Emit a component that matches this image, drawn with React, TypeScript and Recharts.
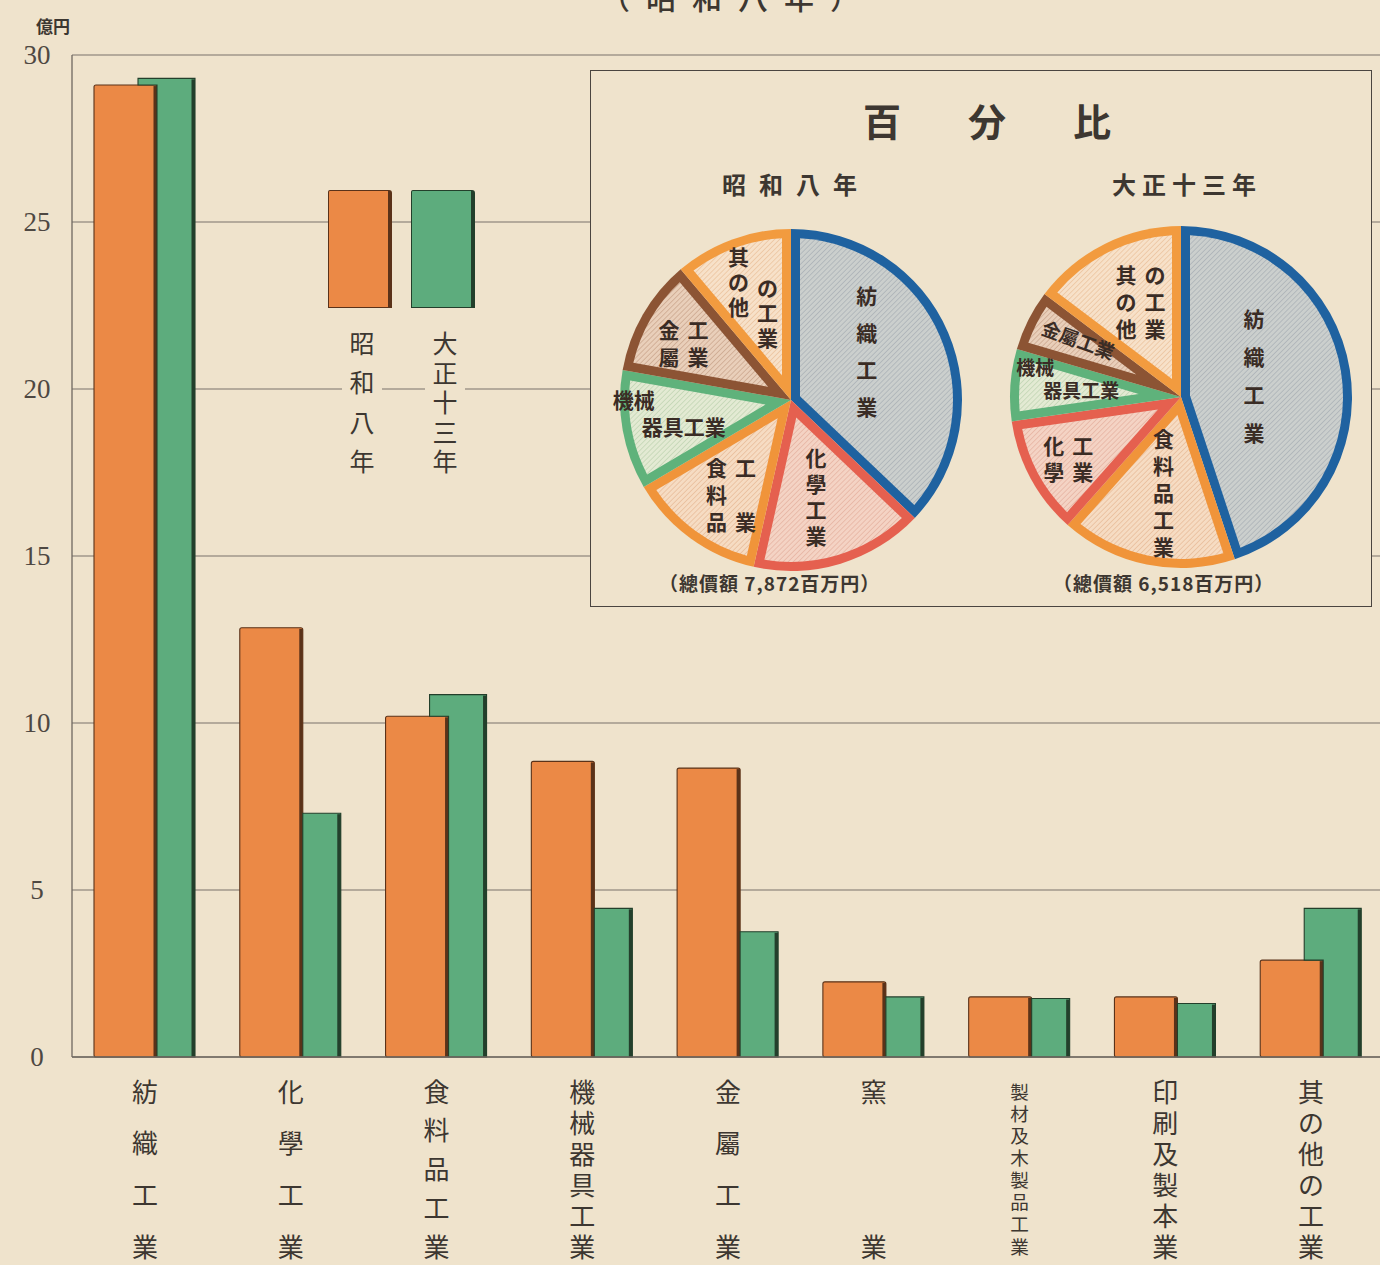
import { Bar, BarChart, CartesianGrid, Cell, Legend, Pie, PieChart, XAxis, YAxis } from 'recharts'

// 工業生産額 (億円)
const industries = [
  '紡織工業',
  '化學工業',
  '食料品工業',
  '機械器具工業',
  '金屬工業',
  '窯業',
  '製材及木製品工業',
  '印刷及製本業',
  '其の他の工業',
]
const showa8 = [29.1, 12.85, 10.2, 8.85, 8.65, 2.25, 1.8, 1.8, 2.9]
const taisho13 = [29.3, 7.3, 10.85, 4.45, 3.75, 1.8, 1.75, 1.6, 4.45]
const seriesNames = ['昭和八年', '大正十三年']
const yTicks = [0, 5, 10, 15, 20, 25, 30]

// pie charts: five largest industries + the rest grouped as 其の他の工業
const showaPieOrder = [0, 1, 2, 3, 4]
const taishoPieOrder = [0, 2, 1, 3, 4]
const otherGroup = [5, 6, 7, 8]
const pieTotals = ['7,872', '6,518']

const data = industries.map((name, i) => ({ name, showa: showa8[i], taisho: taisho13[i] }))

const pieData = (values: number[], order: number[]) => [
  ...order.map((i) => ({ name: industries[i], value: values[i] })),
  { name: industries[8], value: otherGroup.reduce((s, i) => s + values[i], 0) },
]

const PAPER = '#efe3cc'
const ORANGE = '#eb8946'
const GREEN = '#5dac7d'
const ORANGE_EDGE = '#5a3219'
const GREEN_EDGE = '#233f2b'
const INK = '#3d3731'
const JP = '"Noto Sans CJK JP", "Noto Sans CJK SC", sans-serif'
const NUM = '"Liberation Serif", "DejaVu Serif", serif'

const OVERLAP = 19

const pieStyle: Record<string, { id: string; edge: string; pale: string; line: string }> = {
  紡織工業: { id: 'tex', edge: '#1f62a0', pale: '#cbcfcd', line: '#a2aab0' },
  化學工業: { id: 'chem', edge: '#e5604f', pale: '#f4d3c4', line: '#e2aa98' },
  食料品工業: { id: 'food', edge: '#f0943a', pale: '#f6dcc3', line: '#e5b48f' },
  機械器具工業: { id: 'mach', edge: '#5fb27b', pale: '#e3ead3', line: '#b7cfab' },
  金屬工業: { id: 'metal', edge: '#8c5434', pale: '#e9cfba', line: '#c49c82' },
  其の他の工業: { id: 'other', edge: '#f29b3f', pale: '#f7e1c9', line: '#e8bb93' },
}

type Spec = {
  frac: number
  cols?: string[]
  rows?: string[]
  gap?: number
  colGap?: number
  stagger?: number[]
  shift?: number[]
  dx?: number
  dy?: number
  size?: number
  rotate?: number
}

const showaLabels: Record<string, Spec> = {
  紡織工業: { frac: 0.52, cols: ['紡織工業'], gap: 37, dx: -6, dy: -14 },
  化學工業: { frac: 0.585, cols: ['化學工業'], gap: 26, dx: -4 },
  食料品工業: { frac: 0.655, cols: ['食料品', '工業'], gap: 27, dx: 6, dy: 3 },
  機械器具工業: { frac: 0.78, rows: ['機械', '器具工業'], gap: 27, shift: [-26, 24], dy: -11 },
  金屬工業: { frac: 0.725, cols: ['金屬', '工業'], gap: 27, dy: 4 },
  其の他の工業: { frac: 0.645, cols: ['其の他', 'の工業'], gap: 25, stagger: [0, 31], dx: 0 },
}

const taishoLabels: Record<string, Spec> = {
  紡織工業: { frac: 0.45, cols: ['紡織工業'], gap: 38, dx: -3, dy: -10 },
  食料品工業: { frac: 0.565, cols: ['食料品工業'], gap: 27, dx: 2 },
  化學工業: { frac: 0.75, cols: ['化學', '工業'], gap: 26 },
  機械器具工業: { frac: 0.69, rows: ['機械', '器具工業'], gap: 23, shift: [-28, 18], dy: -11, size: 19 },
  金屬工業: { frac: 0.69, rows: ['金屬工業'], dx: 3, dy: -5, size: 19, rotate: 20 },
  其の他の工業: { frac: 0.61, cols: ['其の他', 'の工業'], gap: 27, dx: 6, dy: -3 },
}

const RAD = Math.PI / 180
const polar = (cx: number, cy: number, r: number, a: number) => [
  cx + r * Math.cos(-a * RAD),
  cy + r * Math.sin(-a * RAD),
]

// pale hatched area inside a sector, inset by d from every edge
function insetPath(cx: number, cy: number, r: number, a1: number, a2: number, d: number) {
  const hi = Math.max(a1, a2)
  const lo = Math.min(a1, a2)
  const span = hi - lo
  const R = r - d
  const delta = Math.asin(d / R) / RAD
  const apex = d / Math.sin((span / 2) * RAD)
  const [ax, ay] = polar(cx, cy, apex, (hi + lo) / 2)
  const [p1x, p1y] = polar(cx, cy, R, hi - delta)
  const [p2x, p2y] = polar(cx, cy, R, lo + delta)
  const large = span - 2 * delta > 180 ? 1 : 0
  return `M${ax},${ay}L${p1x},${p1y}A${R},${R} 0 ${large} 1 ${p2x},${p2y}Z`
}

const renderSliceLabel = (specs: Record<string, Spec>) => (p: any) => {
  const { cx, cy, outerRadius, startAngle, endAngle, midAngle, index } = p
  const name = p.payload?.name ?? p.name
  const s = specs[name]
  const st = pieStyle[name]
  const [bx, by] = polar(cx, cy, outerRadius * s.frac, midAngle)
  const ax = bx + (s.dx ?? 0)
  const ay = by + (s.dy ?? 0)
  const size = s.size ?? 21
  const gap = s.gap ?? 26
  const texts: any[] = []
  const textProps = {
    fontSize: size,
    fontFamily: JP,
    fontWeight: 700,
    fill: '#3a2c25',
    textAnchor: 'middle' as const,
    dominantBaseline: 'central' as const,
  }
  if (s.cols) {
    const colGap = s.colGap ?? 29
    const n = s.cols.length
    const maxLen = Math.max(...s.cols.map((c) => Array.from(c).length))
    const stag = s.stagger ?? s.cols.map(() => 0)
    const h = (maxLen - 1) * gap + Math.max(...stag)
    s.cols.forEach((col, ci) => {
      const chars = Array.from(col)
      const step = chars.length > 1 ? (s.stagger ? gap : ((maxLen - 1) * gap) / (chars.length - 1)) : 0
      chars.forEach((c, k) => {
        texts.push(
          <text key={`${ci}-${k}`} x={ax + (ci - (n - 1) / 2) * colGap} y={ay - h / 2 + stag[ci] + k * step} {...textProps}>
            {c}
          </text>
        )
      })
    })
  } else if (s.rows) {
    const n = s.rows.length
    s.rows.forEach((row, ri) => {
      const tx = ax + (s.shift?.[ri] ?? 0)
      const ty = ay + (ri - (n - 1) / 2) * gap
      texts.push(
        <text key={`r${ri}`} x={tx} y={ty} transform={s.rotate ? `rotate(${s.rotate} ${tx} ${ty})` : undefined} {...textProps}>
          {row}
        </text>
      )
    })
  }
  return (
    <g key={`label-${index}`}>
      <path d={insetPath(cx, cy, outerRadius, startAngle, endAngle, 9)} fill={`url(#hatch-${st.id})`} />
      {texts}
    </g>
  )
}

function ShowaBar(props: any) {
  const { x, y, width, height, fill } = props
  if (!(height > 0)) return null
  return (
    <g>
      <rect x={x} y={y} width={width} height={height} fill={fill} stroke={ORANGE_EDGE} strokeWidth={1.1} rx={2} />
      <rect x={x + width - 3.5} y={y + 1} width={3.5} height={height - 1} fill={ORANGE_EDGE} />
    </g>
  )
}

// the green bar sits behind the orange one: only draw the part that stays visible
function TaishoBar(props: any) {
  const { x, y, width, height, fill, payload } = props
  if (!(height > 0)) return null
  const base = y + height
  const orangeTop = base - (height * payload.showa) / payload.taisho
  const ox = x + OVERLAP
  const d =
    orangeTop > y + 1
      ? `M${x},${orangeTop}L${x},${y}L${x + width},${y}L${x + width},${base}L${ox},${base}L${ox},${orangeTop}Z`
      : `M${ox},${y}L${x + width},${y}L${x + width},${base}L${ox},${base}Z`
  return (
    <g>
      <path d={d} fill={fill} stroke={GREEN_EDGE} strokeWidth={1.1} />
      <rect x={x + width - 3.5} y={y + 1} width={3.5} height={height - 1} fill={GREEN_EDGE} />
    </g>
  )
}

function CategoryTick(props: any) {
  const { x, y, payload } = props
  const chars = Array.from(String(payload.value))
  const n = chars.length
  const top = 33
  const bottom = 188
  const step = n > 1 ? (bottom - top) / (n - 1) : 0
  const size = Math.min(26, step * 0.84)
  return (
    <g>
      {chars.map((c, i) => (
        <text
          key={i}
          x={x}
          y={y + top + i * step}
          textAnchor='middle'
          dominantBaseline='central'
          fontSize={size}
          fontFamily={JP}
          fill={INK}
        >
          {c}
        </text>
      ))}
    </g>
  )
}

function ValueTick(props: any) {
  const { x, y, payload } = props
  return (
    <text x={x - 35} y={y} textAnchor='middle' dominantBaseline='central' fontSize={27} fontFamily={NUM} fill='#4e4842'>
      {payload.value}
    </text>
  )
}

const swatchX = [8, 91]
const textX = [42, 125]

function LegendContent(props: any) {
  const { payload = [] } = props
  const entries = seriesNames.map((n) => payload.find((e: any) => e.value === n)).filter(Boolean)
  return (
    <div style={{ position: 'relative', width: 170, height: 300 }}>
      {entries.map((entry: any, i: number) => {
        const chars = Array.from(String(entry.value))
        const step = (275 - 157) / (chars.length - 1)
        return (
          <div key={entry.value}>
            <div
              style={{
                position: 'absolute',
                left: swatchX[i],
                top: 5,
                width: 64,
                height: 118,
                boxSizing: 'border-box',
                background: entry.color,
                border: `1px solid ${i === 0 ? ORANGE_EDGE : GREEN_EDGE}`,
                borderRight: `4px solid ${i === 0 ? ORANGE_EDGE : GREEN_EDGE}`,
                borderRadius: '2px 3px 0 0',
              }}
            />
            {chars.map((c, k) => (
              <div
                key={k}
                style={{
                  position: 'absolute',
                  left: textX[i] - 20,
                  top: 157 + k * step - 13,
                  width: 40,
                  height: 26,
                  lineHeight: '26px',
                  textAlign: 'center',
                  fontSize: 25,
                  fontFamily: JP,
                  color: INK,
                  background: PAPER,
                }}
              >
                {c}
              </div>
            ))}
          </div>
        )
      })}
    </div>
  )
}

function PiePanel(props: { values: number[]; order: number[]; labels: Record<string, Spec>; left: number; cy: number }) {
  const { values, order, labels, left, cy } = props
  const slices = pieData(values, order)
  return (
    <div style={{ position: 'absolute', left, top: 0 }}>
      <PieChart width={390} height={535}>
        <Pie
          data={slices}
          dataKey='value'
          nameKey='name'
          cx={195}
          cy={cy}
          outerRadius={171}
          startAngle={90}
          endAngle={-270}
          stroke='none'
          labelLine={false}
          label={renderSliceLabel(labels)}
          isAnimationActive={false}
        >
          {slices.map((d) => (
            <Cell key={d.name} fill={pieStyle[d.name].edge} />
          ))}
        </Pie>
      </PieChart>
    </div>
  )
}

const absText = (left: number, top: number, size: number, extra: any = {}) => ({
  position: 'absolute' as const,
  left,
  top,
  fontSize: size,
  fontFamily: JP,
  color: INK,
  whiteSpace: 'nowrap' as const,
  lineHeight: 1,
  ...extra,
})

export default function App() {
  return (
    <div style={{ position: 'fixed', left: 0, top: 0, width: 1380, height: 1265, overflow: 'hidden', background: PAPER }}>
      <svg width={0} height={0} style={{ position: 'absolute' }}>
        <defs>
          {Object.values(pieStyle).map((s) => (
            <pattern
              key={s.id}
              id={`hatch-${s.id}`}
              width={3.6}
              height={3.6}
              patternUnits='userSpaceOnUse'
              patternTransform='rotate(45)'
            >
              <rect width={3.6} height={3.6} fill={s.pale} />
              <line x1={0} y1={0} x2={0} y2={3.6} stroke={s.line} strokeWidth={1.2} />
            </pattern>
          ))}
        </defs>
      </svg>

      <div style={absText(600, -19, 30, { letterSpacing: 16, fontWeight: 500 })}>（昭和八年）</div>
      <div style={absText(36, 17, 17, { fontWeight: 700 })}>億円</div>

      <div style={{ position: 'absolute', left: 0, top: 0 }}>
        <BarChart width={1384} height={1265} data={data} margin={{ top: 55, right: 0, bottom: 0, left: 0 }} barGap={-OVERLAP}>
          <CartesianGrid vertical={false} stroke='#7b736a' strokeWidth={1.2} />
          <XAxis
            dataKey='name'
            height={208}
            interval={0}
            tickLine={false}
            tickSize={0}
            tickMargin={0}
            axisLine={{ stroke: '#6f6860', strokeWidth: 1.3 }}
            tick={(p: any) => <CategoryTick {...p} />}
          />
          <YAxis
            width={72}
            domain={[0, 30]}
            ticks={yTicks}
            tickLine={false}
            tickSize={0}
            tickMargin={0}
            axisLine={{ stroke: '#6f6860', strokeWidth: 1.3 }}
            tick={(p: any) => <ValueTick {...p} />}
          />
          <Legend
            layout='horizontal'
            verticalAlign='middle'
            align='center'
            wrapperStyle={{ left: 320, top: 185, width: 170, height: 300 }}
            content={(p: any) => <LegendContent {...p} />}
          />
          <Bar dataKey='showa' name={seriesNames[0]} fill={ORANGE} barSize={63} shape={ShowaBar} isAnimationActive={false} />
          <Bar dataKey='taisho' name={seriesNames[1]} fill={GREEN} barSize={57} shape={TaishoBar} isAnimationActive={false} />
        </BarChart>
      </div>

      <div
        style={{
          position: 'absolute',
          left: 590,
          top: 70,
          width: 782,
          height: 537,
          boxSizing: 'border-box',
          border: '1.5px solid #4a4540',
          background: PAPER,
        }}
      >
        <div style={absText(272, 30, 38, { letterSpacing: 67, fontWeight: 600 })}>百分比</div>
        <div style={absText(131, 101, 24, { letterSpacing: 13, fontWeight: 600 })}>{seriesNames[0]}</div>
        <div style={absText(521, 101, 24, { letterSpacing: 6, fontWeight: 600 })}>{seriesNames[1]}</div>
        <PiePanel values={showa8} order={showaPieOrder} labels={showaLabels} left={0} cy={324} />
        <PiePanel values={taisho13} order={taishoPieOrder} labels={taishoLabels} left={390} cy={321} />
        <div style={absText(68, 502, 19, { fontWeight: 600, letterSpacing: 1 })}>（總價額 {pieTotals[0]}百万円）</div>
        <div style={absText(462, 502, 19, { fontWeight: 600, letterSpacing: 1 })}>（總價額 {pieTotals[1]}百万円）</div>
      </div>
    </div>
  )
}
